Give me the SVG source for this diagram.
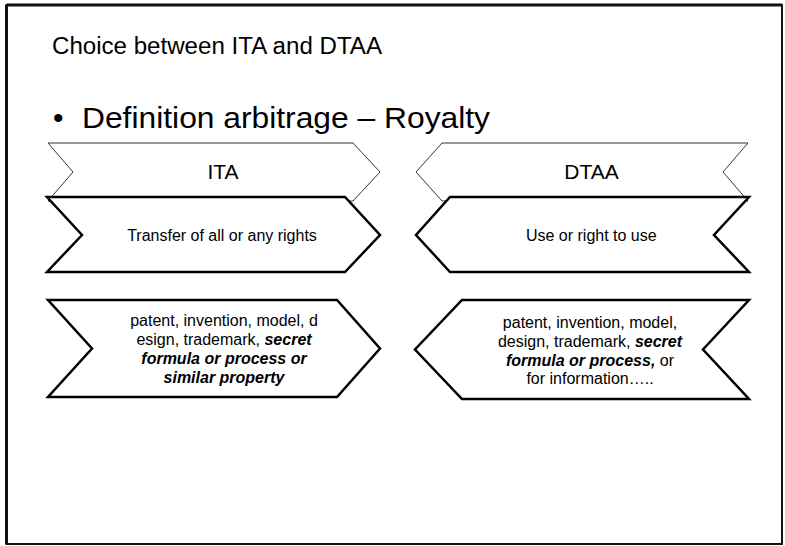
<svg xmlns="http://www.w3.org/2000/svg" width="785" height="546" viewBox="0 0 785 546">
  <style>
    text { font-family: "Liberation Sans", Arial, sans-serif; fill: #000; }
    .head { fill: #fff; stroke: #333; stroke-width: 1; stroke-linejoin: miter; }
    .body { fill: #fff; stroke: #000; stroke-width: 2.5; stroke-linejoin: miter; }
    .hd { font-size: 21px; text-anchor: middle; }
    .tx { font-size: 16px; text-anchor: middle; }
    .bi { font-weight: bold; font-style: italic; }
  </style>

  <!-- slide frame -->
  <rect x="0" y="0" width="785" height="546" fill="#fff"/>
  <rect id="frame" x="6.5" y="5" width="775.5" height="539" fill="none" stroke="#111" stroke-width="2"/>
  <path d="M6.5,5 L6.5,544 M6.5,5 L782,5" fill="none" stroke="#111" stroke-width="3"/>

  <!-- headings -->
  <g id="title">
    <text x="52" y="54" font-size="23" textLength="330" lengthAdjust="spacingAndGlyphs">Choice between ITA and DTAA</text>
  </g>
  <g id="bullet">
    <text x="53" y="128" font-size="30">•</text>
    <text x="82" y="128" font-size="30" textLength="408" lengthAdjust="spacingAndGlyphs">Definition arbitrage – Royalty</text>
  </g>

  <!-- ITA column -->
  <g id="ita-header">
    <path class="head" d="M48,143 L353,143 L380,172 L353,201 L48,201 L73,172 Z"/>
    <text class="hd" x="223" y="178.5">ITA</text>
  </g>
  <g id="ita-scope">
    <path class="body" d="M47,197 L345,197 L380,235 L345,272 L47,272 L82,235 Z"/>
    <text class="tx" x="222" y="240.5">Transfer of all or any rights</text>
  </g>
  <g id="ita-property">
    <path class="body" d="M48,300 L337,300 L380,348.5 L337,397 L48,397 L92,348.5 Z"/>
    <text class="tx" x="224" y="326">patent, invention, model, d</text>
    <text class="tx" x="224" y="345">esign, trademark, <tspan class="bi">secret</tspan></text>
    <text class="tx bi" x="224" y="364">formula or process or</text>
    <text class="tx bi" x="224" y="383">similar property</text>
  </g>

  <!-- DTAA column -->
  <g id="dtaa-header">
    <path class="head" d="M442,143 L748,143 L723,172 L748,201 L442,201 L416,172 Z"/>
    <text class="hd" x="591.5" y="179">DTAA</text>
  </g>
  <g id="dtaa-scope">
    <path class="body" d="M450,197 L749,197 L714,235 L749,272 L450,272 L416,235 Z"/>
    <text class="tx" x="591.3" y="240.5">Use or right to use</text>
  </g>
  <g id="dtaa-property">
    <path class="body" d="M462,300 L749,300 L703,349.5 L749,399 L462,399 L415,349.5 Z"/>
    <text class="tx" x="590" y="327.5">patent, invention, model,</text>
    <text class="tx" x="590" y="346.5">design, trademark, <tspan class="bi">secret</tspan></text>
    <text class="tx" x="590" y="365.5"><tspan class="bi">formula or process,</tspan> or</text>
    <text class="tx" x="590" y="384">for information…..</text>
  </g>
</svg>
